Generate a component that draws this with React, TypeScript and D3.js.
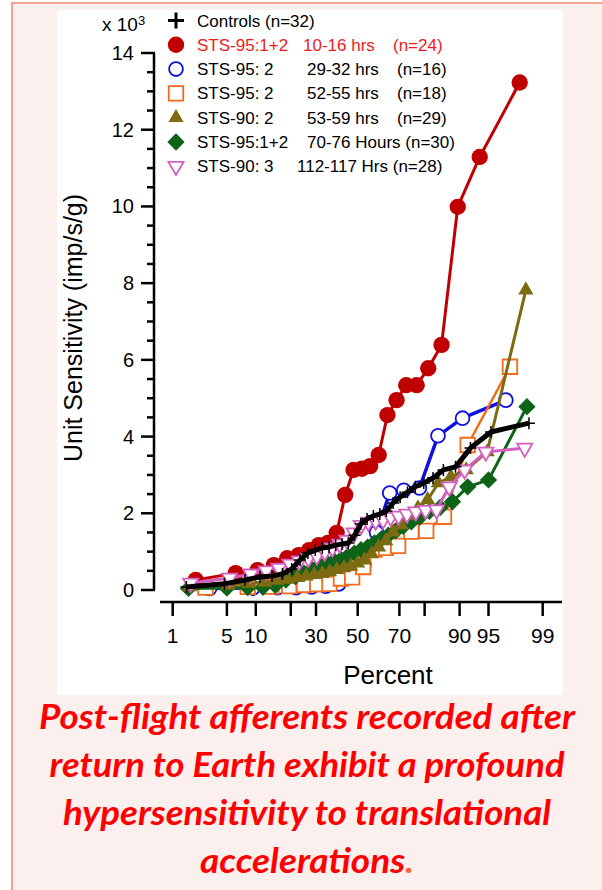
import React from 'react';
import * as d3 from 'd3';

// unit sensitivity values (imp/s/g), sorted, one array per group
const controls = [80, 160, 260, 340, 365, 420, 550, 780, 965, 1040, 1095, 1120, 1170, 1200, 1225, 1430, 1720, 1850, 1930, 1980, 2060, 2270, 2420, 2550, 2690, 2790, 2920, 3130, 3210, 3700, 4120, 4350];
const sts95_10h = [260, 440, 520, 650, 830, 910, 1040, 1170, 1230, 1490, 2480, 3130, 3160, 3230, 3520, 4560, 4950, 5340, 5340, 5780, 6390, 9990, 11290, 13230];
const sts95_29h = [40, 50, 60, 60, 80, 100, 160, 340, 650, 1500, 2530, 2600, 2660, 4020, 4480, 4950];
const sts95_52h = [60, 80, 90, 100, 130, 150, 160, 300, 330, 600, 1050, 1100, 1150, 1520, 1540, 1910, 3780, 5820];
const sts90_53h = [80, 130, 170, 200, 250, 280, 320, 360, 400, 430, 470, 530, 580, 620, 700, 780, 940, 1120, 1280, 1510, 1690, 1930, 2140, 2350, 2790, 2950, 3130, 3600, 7820];
const sts95_70h = [40, 50, 60, 70, 120, 260, 350, 440, 540, 650, 700, 760, 800, 880, 960, 1050, 1120, 1230, 1330, 1430, 1540, 1660, 1780, 1900, 2050, 2150, 2300, 2690, 2870, 4780];
const sts90_112h = [180, 310, 420, 500, 570, 680, 760, 830, 890, 990, 1100, 1200, 1300, 1490, 1690, 1770, 1800, 1830, 1900, 1930, 1980, 2040, 2080, 2090, 2690, 3130, 3600, 3700];

const xTicks = [1, 5, 10, 20, 30, 50, 70, 80, 90, 95, 99];
const xTickLabels = [1, 5, 10, 30, 50, 70, 90, 95, 99];
const yTicks = [0, 2, 4, 6, 8, 10, 12, 14];

const legendLabels = [
  ['Controls (n=32)'],
  ['STS-95:1+2', '10-16 hrs', '(n=24)'],
  ['STS-95: 2', '29-32 hrs', '(n=16)'],
  ['STS-95: 2', '52-55 hrs', '(n=18)'],
  ['STS-90: 2', '53-59 hrs', '(n=29)'],
  ['STS-95:1+2', '70-76 Hours (n=30)'],
  ['STS-90: 3', '112-117 Hrs (n=28)'],
];
const legendCols = [
  [197],
  [197, 303, 393],
  [197, 307, 397],
  [197, 307, 397],
  [197, 307, 397],
  [197, 307],
  [197, 297],
];

const caption = [
  'Post-flight afferents recorded after',
  'return to Earth exhibit a profound',
  'hypersensitivity to translational',
  'accelerations',
];
const captionWidths = [536, 515, 488, 214];

// inverse normal cdf (Acklam)
function probit(p: number) {
  const a = [-39.69683028665376, 220.9460984245205, -275.9285104469687, 138.357751867269, -30.66479806614716, 2.506628277459239];
  const b = [-54.47609879822406, 161.5858368580409, -155.6989798598866, 66.80131188771972, -13.28068155288572];
  const c = [-0.007784894002430293, -0.3223964580411365, -2.400758277161838, -2.549732539343734, 4.374664141464968, 2.938163982698783];
  const d = [0.007784695709041462, 0.3224671290700398, 2.445134137142996, 3.754408661907416];
  const pl = 0.02425;
  let q, r;
  if (p < pl) {
    q = Math.sqrt(-2 * Math.log(p));
    return (((((c[0] * q + c[1]) * q + c[2]) * q + c[3]) * q + c[4]) * q + c[5]) / ((((d[0] * q + d[1]) * q + d[2]) * q + d[3]) * q + 1);
  }
  if (p > 1 - pl) {
    q = Math.sqrt(-2 * Math.log(1 - p));
    return -(((((c[0] * q + c[1]) * q + c[2]) * q + c[3]) * q + c[4]) * q + c[5]) / ((((d[0] * q + d[1]) * q + d[2]) * q + d[3]) * q + 1);
  }
  q = p - 0.5;
  r = q * q;
  return (((((a[0] * r + a[1]) * r + a[2]) * r + a[3]) * r + a[4]) * r + a[5]) * q / (((((b[0] * r + b[1]) * r + b[2]) * r + b[3]) * r + b[4]) * r + 1);
}

const zScale = d3.scaleLinear().domain([probit(0.01), probit(0.99)]).range([172.7, 542.7]);
const x = (pct: number) => zScale(probit(pct / 100));
const y = d3.scaleLinear().domain([0, 14000]).range([590, 53]);

const sym = (type: d3.SymbolType, size: number) => d3.symbol().type(type).size(size)() as string;
const plusPath = 'M-6,0H6M0,-6V6';

// draw order: back to front
const groups = [
  { values: sts95_29h, color: '#1010e0', fill: '#fff', path: sym(d3.symbolCircle, 150), rot: 0, lw: 3.5, sw: 1.8, leg: 2 },
  { values: sts95_52h, color: '#f26a1b', fill: '#fff', path: sym(d3.symbolSquare, 210), rot: 0, lw: 2.5, sw: 1.8, leg: 3 },
  { values: sts95_70h, color: '#0d6317', fill: '#0d6317', path: sym(d3.symbolSquare, 150), rot: 45, lw: 3, sw: 0, leg: 5 },
  { values: sts90_53h, color: '#7d6b12', fill: '#7d6b12', path: sym(d3.symbolTriangle, 100), rot: 0, lw: 3, sw: 0, leg: 4 },
  { values: sts95_10h, color: '#c00000', fill: '#c00000', path: sym(d3.symbolCircle, 210), rot: 0, lw: 3, sw: 0, leg: 1 },
  { values: sts90_112h, color: '#d35fc0', fill: '#fff', path: sym(d3.symbolTriangle, 100), rot: 180, lw: 3, sw: 1.8, leg: 6 },
];

const pos = (values: number[]) => values.map((v, i) => [x(((i + 0.5) / values.length) * 100), y(v)] as [number, number]);
const line = d3.line();

const legendY = (i: number) => 20.5 + i * 24.3;

export default function App() {
  const ctrlPts = pos(controls);
  const yMinor = d3.range(0, 14001, 500).filter((v) => v % 2000 !== 0);
  return (
    <svg width={602} height={890} style={{ position: 'absolute', left: 0, top: 0, background: '#fff' }}
      fontFamily="'Liberation Sans', Arial, sans-serif">
      <rect x={12} y={3} width={600} height={900} fill="#fcf0ef" stroke="#f3a393" strokeWidth={2} />
      <rect x={57} y={10} width={506} height={685} fill="#fff" />

      {/* y axis */}
      <line x1={154} x2={154} y1={y(14000)} y2={y(0)} stroke="#000" strokeWidth={2.5} />
      {yTicks.map((t) => (
        <g key={t}>
          <line x1={141} x2={155} y1={y(t * 1000)} y2={y(t * 1000)} stroke="#000" strokeWidth={2.5} />
          <text x={134} y={y(t * 1000) + 7} textAnchor="end" fontSize={20}>{t}</text>
        </g>
      ))}
      {yMinor.map((v) => (
        <line key={v} x1={147} x2={155} y1={y(v)} y2={y(v)} stroke="#000" strokeWidth={2.5} />
      ))}
      <text x={102} y={31} fontSize={19}>x 10<tspan fontSize={13} dy={-6}>3</tspan></text>
      <text transform={`translate(82,${328}) rotate(-90)`} textAnchor="middle" fontSize={25}>Unit Sensitivity (imp/s/g)</text>

      {/* x axis */}
      <line x1={160} x2={562} y1={602} y2={602} stroke="#000" strokeWidth={2.5} />
      {xTicks.map((t) => (
        <line key={t} x1={x(t)} x2={x(t)} y1={602} y2={616} stroke="#000" strokeWidth={2.5} />
      ))}
      {xTickLabels.map((t) => (
        <text key={t} x={x(t)} y={643} textAnchor="middle" fontSize={21}>{t}</text>
      ))}
      <text x={388} y={684} textAnchor="middle" fontSize={26}>Percent</text>

      {/* series */}
      {groups.map((g, gi) => {
        const pts = pos(g.values);
        return (
          <g key={gi}>
            <path d={line(pts) as string} fill="none" stroke={g.color} strokeWidth={g.lw} strokeLinejoin="round" />
            {pts.map((p, i) => (
              <path key={i} d={g.path} transform={`translate(${p[0]},${p[1]}) rotate(${g.rot})`}
                fill={g.fill} stroke={g.color} strokeWidth={g.sw} />
            ))}
          </g>
        );
      })}
      <path d={line(ctrlPts) as string} fill="none" stroke="#000" strokeWidth={5} strokeLinejoin="round" />
      {ctrlPts.map((p, i) => (
        <path key={i} d={plusPath} transform={`translate(${p[0]},${p[1]})`} stroke="#000" strokeWidth={1.5} />
      ))}

      {/* legend */}
      <path d="M-8,0H8M0,-8V8" transform={`translate(176,${legendY(0)})`} stroke="#000" strokeWidth={3} />
      {groups.map((g, gi) => (
        <path key={gi} d={g.path} transform={`translate(176,${legendY(g.leg)}) rotate(${g.rot})`}
          fill={g.fill} stroke={g.color} strokeWidth={g.sw} />
      ))}
      {legendLabels.map((parts, ri) =>
        parts.map((s, ci) => (
          <text key={`${ri}-${ci}`} x={legendCols[ri][ci]} y={legendY(ri) + 6} fontSize={17}
            fill={ri === 1 ? '#ee1c1c' : '#000'}>{s}</text>
        ))
      )}

      {/* caption */}
      {caption.map((s, i) => (
        <text key={i} x={307} y={729 + i * 48} textAnchor="middle" fontSize={34} fontWeight="bold" fontStyle="italic"
          textLength={captionWidths[i]} lengthAdjust="spacingAndGlyphs"
          fontFamily="Lato, 'Open Sans', sans-serif" fill="#ff0000">
          {s}{i === caption.length - 1 ? <tspan fill="#f4623a">.</tspan> : null}
        </text>
      ))}
    </svg>
  );
}
